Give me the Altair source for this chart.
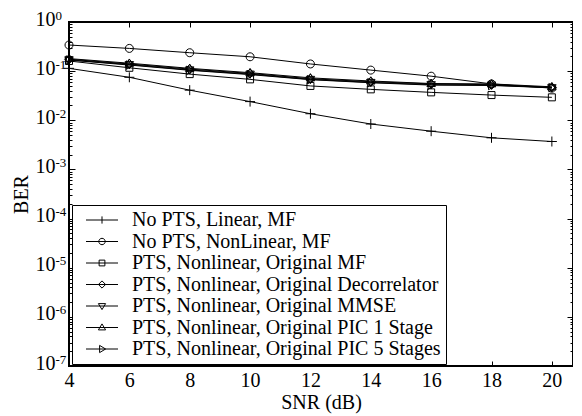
import altair as alt
import pandas as pd

# ---------------- data ----------------
snr = [4, 6, 8, 10, 12, 14, 16, 18, 20]
series_names = [
    "No PTS, Linear, MF",
    "No PTS, NonLinear, MF",
    "PTS, Nonlinear, Original MF",
    "PTS, Nonlinear, Original Decorrelator",
    "PTS, Nonlinear, Original MMSE",
    "PTS, Nonlinear, Original PIC 1 Stage",
    "PTS, Nonlinear, Original PIC 5 Stages",
]
ber_nopts_linear_mf = [0.114, 0.075, 0.041, 0.024, 0.0136, 0.0084, 0.0060, 0.0044, 0.0037]
ber_nopts_nonlinear_mf = [0.34, 0.29, 0.237, 0.196, 0.14, 0.105, 0.079, 0.055, 0.045]
ber_pts_mf = [0.161, 0.117, 0.087, 0.068, 0.050, 0.0426, 0.037, 0.0326, 0.0293]
ber_pts_decor = [0.175, 0.140, 0.110, 0.090, 0.070, 0.061, 0.055, 0.053, 0.047]
ber_pts_mmse = [0.170, 0.136, 0.106, 0.087, 0.068, 0.059, 0.053, 0.052, 0.046]
ber_pts_pic1 = [0.180, 0.145, 0.114, 0.093, 0.073, 0.063, 0.056, 0.055, 0.048]
ber_pts_pic5 = [0.168, 0.133, 0.104, 0.085, 0.067, 0.058, 0.052, 0.051, 0.046]

x_ticks = [4, 6, 8, 10, 12, 14, 16, 18, 20]
y_major = [1e-7, 1e-6, 1e-5, 1e-4, 1e-3, 1e-2, 1e-1, 1.0]
y_exponents = ["0", "-1", "-2", "-3", "-4", "-5", "-6", "-7"]  # for 10^0 .. 10^-7
y_minor = [m * 10.0 ** e for e in range(-7, 0) for m in range(2, 10)]

all_series = [ber_nopts_linear_mf, ber_nopts_nonlinear_mf, ber_pts_mf,
              ber_pts_decor, ber_pts_mmse, ber_pts_pic1, ber_pts_pic5]
rows = []
for name, vals in zip(series_names, all_series):
    for s, b in zip(snr, vals):
        rows.append({"snr": s, "ber": b, "series": name})
df = pd.DataFrame(rows)

# marker shapes (hollow, MATLAB-like)
marker_paths = [
    "M-1,0H1M0,-1V1",
    "M-0.8,0A0.8,0.8 0 1,1 0.8,0A0.8,0.8 0 1,1 -0.8,0Z",
    "M-0.7,-0.7H0.7V0.7H-0.7Z",
    "M0,-0.9L0.9,0L0,0.9L-0.9,0Z",
    "M-0.85,-0.6H0.85L0,0.85Z",
    "M-0.85,0.6H0.85L0,-0.85Z",
    "M-0.6,-0.85V0.85L0.85,0Z",
]
legend_paths = [
    "M-2,0H2M0,-0.45V0.45",
    "M-2,0H2M-0.4,0A0.4,0.4 0 1,1 0.4,0A0.4,0.4 0 1,1 -0.4,0Z",
    "M-2,0H2M-0.36,-0.36H0.36V0.36H-0.36Z",
    "M-2,0H2M0,-0.45L0.45,0L0,0.45L-0.45,0Z",
    "M-2,0H2M-0.45,-0.3H0.45L0,0.45Z",
    "M-2,0H2M-0.45,0.3H0.45L0,-0.45Z",
    "M-2,0H2M-0.3,-0.45V0.45L0.45,0Z",
]

FONT = "Liberation Serif"
x_scale = alt.Scale(domain=[4, 20.7], nice=False, zero=False)
y_scale = alt.Scale(type="log", domain=[1e-7, 1], nice=False)

exp_expr = "[" + ",".join("'%s'" % e for e in y_exponents) + "][round(-log(datum.value)/LN10)]"

base = alt.Chart(df)

lines = base.mark_line(color="black", strokeWidth=1).encode(
    x=alt.X("snr:Q", scale=x_scale, axis=alt.Axis(
        orient="bottom", values=x_ticks, title="SNR (dB)", ticks=False, tickSize=0,
        domain=False, grid=False, labelPadding=4, labelFlush=False, titlePadding=2)),
    y=alt.Y("ber:Q", scale=y_scale, axis=alt.Axis(
        orient="left", values=y_major, labelExpr="'10'", title="BER", ticks=False,
        tickSize=0, domain=False, grid=False, labelPadding=14, labelOffset=-3,
        labelBaseline="middle", titlePadding=4, labelOverlap=False)),
    detail="series:N",
)

points = base.mark_point(filled=False, color="black", strokeWidth=1, opacity=1, size=100).encode(
    x=alt.X("snr:Q", scale=x_scale, axis=alt.Axis(
        orient="bottom", values=x_ticks, offset=-5, tickSize=5, labels=False,
        domain=False, grid=False, title=None)),
    y=alt.Y("ber:Q", scale=y_scale, axis=alt.Axis(
        orient="left", values=y_major, labelExpr=exp_expr, labelAlign="left",
        labelPadding=14, labelOffset=-7, labelFontSize=13, ticks=False, tickSize=0,
        domain=False, grid=False, title=None, labelOverlap=False, labelBaseline="middle")),
    shape=alt.Shape("series:N", scale=alt.Scale(domain=series_names, range=marker_paths), legend=None),
)

legend_layer = base.transform_filter("false").mark_point(
    filled=False, color="black", strokeWidth=1, opacity=1, size=256).encode(
    x=alt.X("snr:Q", scale=x_scale, axis=alt.Axis(
        orient="top", values=x_ticks, offset=-5, tickSize=5, labels=False,
        domain=False, grid=False, title=None)),
    y=alt.Y("ber:Q", scale=y_scale, axis=alt.Axis(
        orient="left", values=y_major, offset=-6, tickSize=6, labels=False,
        domain=False, grid=False, title=None)),
    shape=alt.Shape("series:N", scale=alt.Scale(domain=series_names, range=legend_paths),
                    legend=alt.Legend(orient="none", legendX=3, legendY=183, title=None,
                                      strokeColor="black", fillColor="white", padding=5,
                                      symbolSize=256, symbolOffset=15, labelOffset=20,
                                      rowPadding=1.5, symbolStrokeWidth=1,
                                      symbolStrokeColor="black",
                                      labelExpr="datum.label + '   '")),
)


def tick_layer(orient, values, size):
    return base.transform_filter("false").mark_point(opacity=0).encode(
        x=alt.X("snr:Q", scale=x_scale, axis=None),
        y=alt.Y("ber:Q", scale=y_scale, axis=alt.Axis(
            orient=orient, values=values, offset=-size, tickSize=size, labels=False,
            domain=False, grid=False, title=None)),
    )


chart = alt.layer(
    lines, points, legend_layer,
    tick_layer("left", y_minor, 3),
    tick_layer("right", y_major, 6),
    tick_layer("right", y_minor, 3),
).resolve_scale(shape="independent").resolve_axis(
    x="independent", y="independent"
).properties(
    width=504, height=344,
    padding={"left": 61, "top": 14, "right": 0, "bottom": 48},
    autosize=alt.AutoSizeParams(type="none"),
    background="white",
).configure_view(
    stroke="black", strokeWidth=2
).configure_axis(
    labelFont=FONT, titleFont=FONT, labelFontSize=20, titleFontSize=20,
    labelColor="black", titleColor="black", tickColor="black", tickWidth=1,
    titleFontWeight="normal", grid=False,
).configure_legend(
    labelFont=FONT, labelFontSize=20, labelColor="black", labelLimit=0,
)

chart.save("out.html", embed_options={"renderer": "svg", "actions": False})
